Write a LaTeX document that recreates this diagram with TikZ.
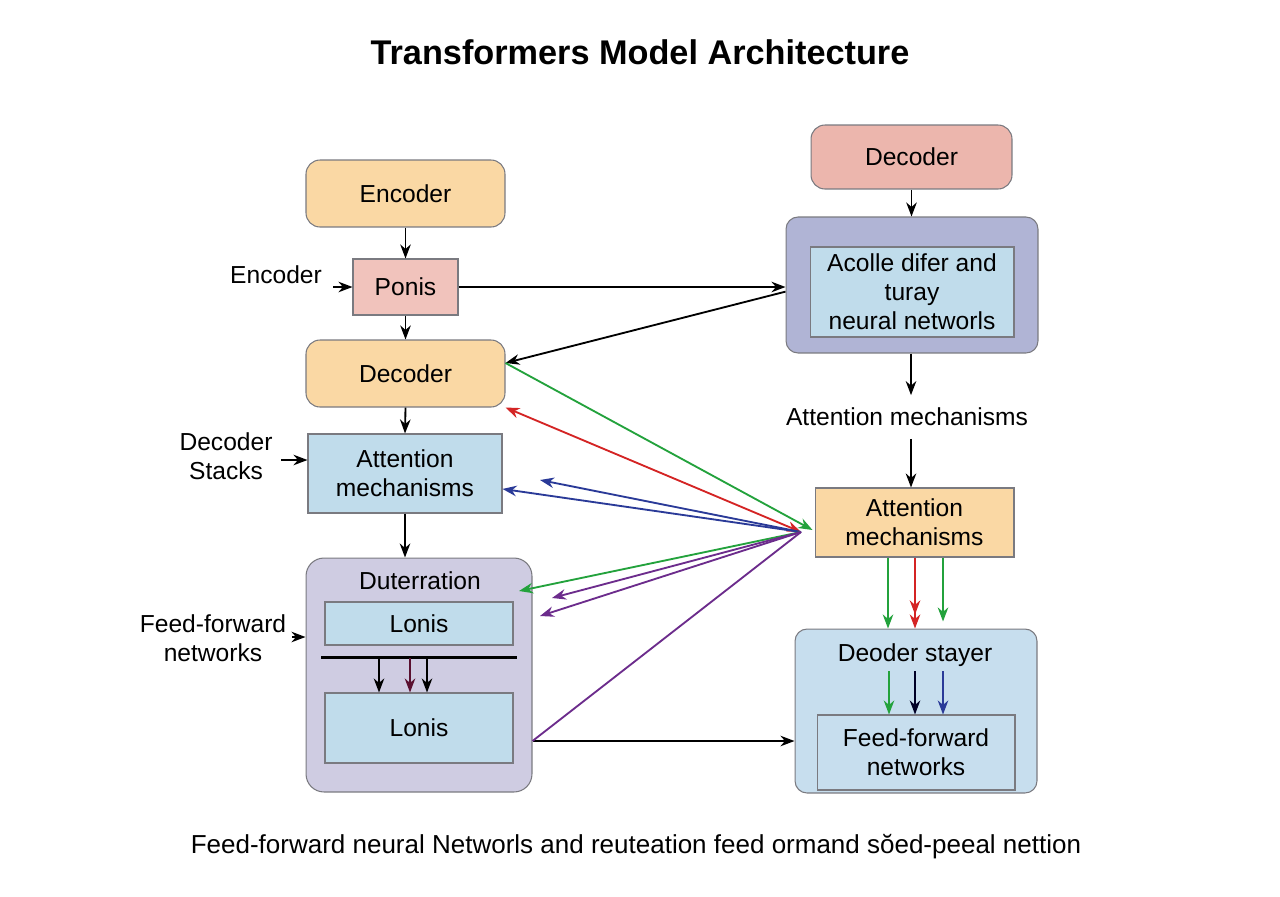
\documentclass[tikz,border=0pt]{standalone}
\usepackage{fontspec}
\setmainfont{Liberation Sans}
\usetikzlibrary{arrows.meta,calc}
\definecolor{orf}{HTML}{FAD8A4}
\definecolor{pkf}{HTML}{F1C3BC}
\definecolor{sal}{HTML}{ECB6AD}
\definecolor{peri}{HTML}{B0B4D5}
\definecolor{lbl}{HTML}{C0DCEB}
\definecolor{lav}{HTML}{CFCCE2}
\definecolor{lbl2}{HTML}{C7DEEE}
\definecolor{bord}{HTML}{7A7A80}
\definecolor{gr}{HTML}{23A23C}
\definecolor{rd}{HTML}{D42424}
\definecolor{bl}{HTML}{2A3A98}
\definecolor{pu}{HTML}{6C2C8C}
\definecolor{mr}{HTML}{5A1030}
\begin{document}
\begin{tikzpicture}[x=0.02cm,y=-0.02cm,
  font=\fontsize{14}{16.5}\selectfont,
  sbox/.style={draw=bord, line width=0.6pt, inner sep=0pt, align=center},
  rbox/.style={sbox, rounded corners=0.28cm},
  lab/.style={inner sep=0pt, align=center},
  arr/.style={-{Stealth[length=8pt,width=6pt]}, line width=1.05pt},
  arrb/.style={{Stealth[length=8pt,width=6pt]}-{Stealth[length=8pt,width=6pt]}, line width=1.05pt},
  arr2/.style={-{Stealth[length=8pt,width=6pt]Stealth[length=8pt,width=6pt]}, line width=1.05pt}]
\useasboundingbox (0,0) rectangle (1280,896);
\fill[white] (0,0) rectangle (1280,896);

% title
\node[lab, font=\bfseries\fontsize{19.5}{22}\selectfont] (title) at (640,52) {Transformers Model Architecture};

% left column
\node[rbox, fill=orf, minimum width=3.98cm, minimum height=1.34cm] (enc) at (405.5,193.5) {Encoder};
\node[sbox, fill=pkf, minimum width=2.1cm, minimum height=1.12cm] (ponis) at (405.5,287) {Ponis};
\node[rbox, fill=orf, minimum width=3.98cm, minimum height=1.34cm] (decL) at (405.5,373.5) {Decoder};
\node[sbox, fill=lbl, minimum width=3.88cm, minimum height=1.58cm] (attL) at (405,473.5) {Attention\\mechanisms};
\node[rbox, rounded corners=0.36cm, fill=lav, minimum width=4.52cm, minimum height=4.68cm] (dut) at (419,675) {};
\node[lab] (dutlab) at (420,581) {Duterration};
\node[sbox, fill=lbl, minimum width=3.76cm, minimum height=0.86cm] (lon1) at (419,623.5) {Lonis};
\node[sbox, fill=lbl, minimum width=3.76cm, minimum height=1.4cm] (lon2) at (419,728) {Lonis};

% left labels
\node[lab] (enclab) at (276,275) {Encoder};
\node[lab] (dslab) at (226,456) {Decoder\\Stacks};
\node[lab] (fflab) at (213,638) {Feed-forward\\networks};
\coordinate (encA) at (333,287);
\coordinate (dsA) at (281,460);
\coordinate (ffA) at (292,637);

% right column
\node[rbox, fill=sal, minimum width=4.02cm, minimum height=1.28cm] (decR) at (911.5,157) {Decoder};
\node[rbox, rounded corners=0.24cm, fill=peri, minimum width=5.04cm, minimum height=2.72cm] (outR) at (912,285) {};
\node[sbox, fill=lbl, minimum width=4.08cm, minimum height=1.8cm] (inR) at (912,292) {Acolle difer and\\turay\\neural networls};
\node[lab, minimum height=0.86cm] (attlab) at (907,417) {Attention mechanisms};
\node[sbox, fill=orf, minimum width=3.98cm, minimum height=1.38cm] (attR) at (914.5,522.5) {Attention\\mechanisms};
\node[rbox, rounded corners=0.24cm, fill=lbl2, minimum width=4.84cm, minimum height=3.28cm] (botR) at (916,711) {};
\node[lab] (deolab) at (915,655) {Deoder stayer};
\node[sbox, fill=lbl2, minimum width=3.96cm, minimum height=1.5cm] (ffR) at (916,752.5) {Feed-forward\\networks};

% caption
\node[lab, font=\fontsize{14.8}{17}\selectfont] (cap) at (636,847) {Feed-forward neural Networls and reuteation feed ormand sŏed-peeal nettion};

% black connectors, left
\draw[arr] (enc.south) -- (ponis.north);
\draw[arr] (encA) -- (ponis.west);
\draw[arr] (ponis.south) -- (decL.north);
\draw[arr] (ponis.east) -- (ponis.east -| outR.west);
\draw[arr] (outR.183) -- (decL.6);
\draw[arr] (decL.south) -- (attL.north);
\draw[arr] (dsA) -- (dsA -| attL.west);
\draw[arr] (attL.south) -- (attL.south |- dut.north);
\draw[arr] (ffA) -- (ffA -| dut.west);

% inside Duterration
\path (lon1.south west) ++(-3,12) coordinate (barL);
\path (lon1.south east) ++(3,12) coordinate (barR);
\draw[line width=1.5pt] (barL) -- (barR);
\path (lon1.south) ++(-40,12) coordinate (c1);
\path (lon1.south) ++(-9,12) coordinate (c2);
\path (lon1.south) ++(8,12) coordinate (c3);
\draw[arr] (c1) -- (c1 |- lon2.north);
\draw[arr, mr] (c2) -- (c2 |- lon2.north);
\draw[arr] (c3) -- (c3 |- lon2.north);

% Lonis -> bottom right
\path (dut.east) ++(0,66) coordinate (dOut);
\draw[arr] (dOut) -- (dOut -| botR.west);

% right column connectors
\path (outR.south) ++(-1,0) coordinate (rx);
\draw[arr] (decR.south) -- (decR.south |- outR.north);
\draw[arr] (rx) -- (rx |- attlab.north);
\draw[arr] (rx |- attlab.south) -- (rx |- attR.north);
\path (attR.south) ++(-26.5,0) coordinate (a1);
\path (attR.south) ++(0.5,0) coordinate (a2);
\path (attR.south) ++(28.5,0) coordinate (a3);
\draw[arr, gr] (a1) -- (a1 |- botR.north);
\draw[arr2, rd] (a2) -- (a2 |- botR.north);
\draw[arr, gr, shorten >=4pt] (a3) -- (a3 |- botR.north);
\path (ffR.north) ++(-27,-43) coordinate (b1);
\path (ffR.north) ++(-1,-43) coordinate (b2);
\path (ffR.north) ++(27,-43) coordinate (b3);
\draw[arr, gr] (b1) -- (b1 |- ffR.north);
\draw[arr, black!85!blue] (b2) -- (b2 |- ffR.north);
\draw[arr, bl] (b3) -- (b3 |- ffR.north);

% converging coloured connectors
\coordinate (cv) at (801,532);
\path (attR.west) ++(-2,7.5) coordinate (cvg);
\coordinate (bl2) at (540,480);
\coordinate (g2) at (519,591);
\coordinate (p1) at (552,598);
\coordinate (p2) at (540,616);
\draw[arr, gr] (decL.6) -- (cvg);
\draw[arrb, rd] (cv) -- (decL.south east);
\draw[arr, bl] (cv) -- (attL.351);
\draw[arr, bl] (cv) -- (bl2);
\draw[arr, gr] (cv) -- (g2);
\draw[arr, pu] (cv) -- (p1);
\draw[arr, pu] (cv) -- (p2);
\draw[line width=1.05pt, pu] (dOut) -- (cv);
\end{tikzpicture}
\end{document}
